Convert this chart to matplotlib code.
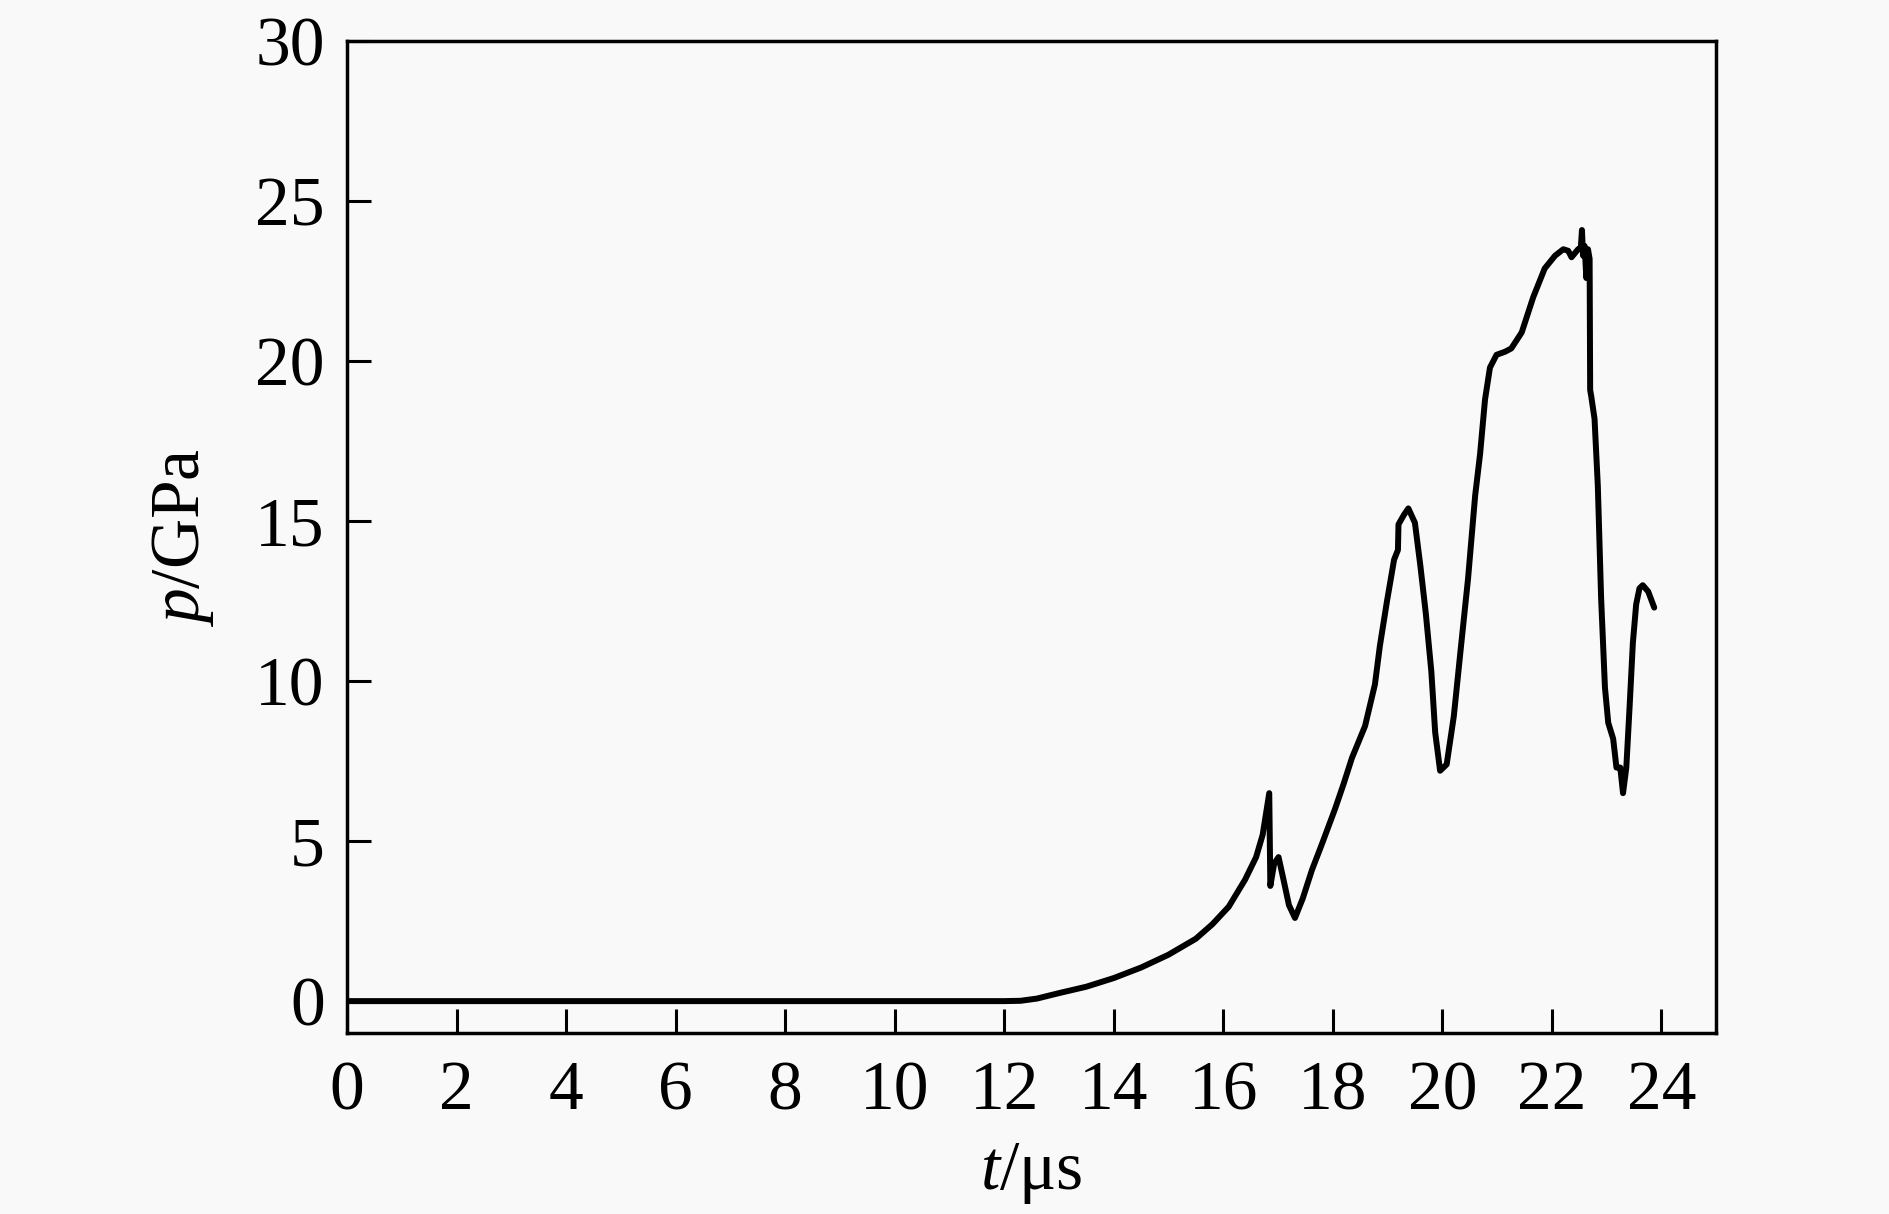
import matplotlib.pyplot as plt

plt.rcParams['font.family'] = 'Liberation Serif'
plt.rcParams['mathtext.fontset'] = 'custom'
plt.rcParams['mathtext.rm'] = 'Liberation Serif'
plt.rcParams['mathtext.it'] = 'Liberation Serif:italic'

# pressure history
t_us = [0, 2, 4, 6, 8, 10, 12, 12.3, 12.6, 13.0, 13.5, 14.0, 14.5, 15.0, 15.5, 15.8, 16.1, 16.4,
        16.6, 16.72, 16.84, 16.86, 16.93, 17.01, 17.1, 17.2, 17.31, 17.45, 17.62, 17.8, 18.04,
        18.2, 18.35, 18.59, 18.77, 18.86, 18.99, 19.12, 19.19, 19.2, 19.3, 19.38, 19.5, 19.6,
        19.7, 19.8, 19.87, 19.96, 20.08, 20.21, 20.33, 20.47, 20.6, 20.69, 20.78, 20.87, 20.99,
        21.15, 21.26, 21.45, 21.66, 21.87, 22.06, 22.21, 22.3, 22.36, 22.48, 22.53, 22.55, 22.57,
        22.6, 22.63, 22.66, 22.69, 22.7, 22.72, 22.78, 22.84, 22.9, 22.97, 23.03, 23.12, 23.18,
        23.25, 23.3, 23.36, 23.42, 23.48, 23.54, 23.6, 23.66, 23.76, 23.87]
p_gpa = [0, 0, 0, 0, 0, 0, 0, 0.01, 0.08, 0.25, 0.45, 0.72, 1.05, 1.45, 1.95, 2.4, 2.95, 3.8,
         4.5, 5.2, 6.5, 3.6, 4.3, 4.5, 3.8, 3.0, 2.6, 3.2, 4.1, 4.9, 6.0,
         6.8, 7.6, 8.6, 9.9, 11.1, 12.5, 13.8, 14.1, 14.9, 15.2, 15.4, 14.95, 13.6,
         12.1, 10.3, 8.4, 7.2, 7.4, 8.9, 10.9, 13.2, 15.8, 17.1, 18.8, 19.8, 20.2,
         20.3, 20.4, 20.9, 22.0, 22.9, 23.3, 23.5, 23.45, 23.25, 23.5, 23.55, 24.1, 23.3,
         23.6, 22.6, 23.5, 23.2, 19.1, 18.9, 18.2, 16.1, 12.6, 9.8, 8.7, 8.2, 7.3,
         7.3, 6.5, 7.3, 9.2, 11.2, 12.4, 12.9, 13.0, 12.8, 12.3]

x_ticks = list(range(0, 25, 2))
y_ticks = [0, 5, 10, 15, 20, 25, 30]

fig = plt.figure(figsize=(18.9, 12.14), dpi=100)
fig.patch.set_facecolor('#f9f9f9')
ax = fig.add_axes([0.1836, 0.149, 0.7244, 0.817])
ax.set_facecolor('#f9f9f9')

ax.plot(t_us, p_gpa, color='black', linewidth=4.3, solid_joinstyle='round', solid_capstyle='round')

ax.set_xlim(0, 25)
ax.set_ylim(-1, 30)
ax.set_xticks(x_ticks)
ax.set_yticks(y_ticks)
ax.tick_params(direction='in', length=17, width=2.2, labelsize=50, pad=16)
ax.tick_params(axis='x', pad=20)
for s in ax.spines.values():
    s.set_linewidth(2.5)

ax.set_xlabel('$t$/μs', fontsize=50, labelpad=12)
ax.set_ylabel('$p$/GPa', fontsize=50, labelpad=28)

fig.savefig('out.png', dpi=100, facecolor=fig.get_facecolor())
